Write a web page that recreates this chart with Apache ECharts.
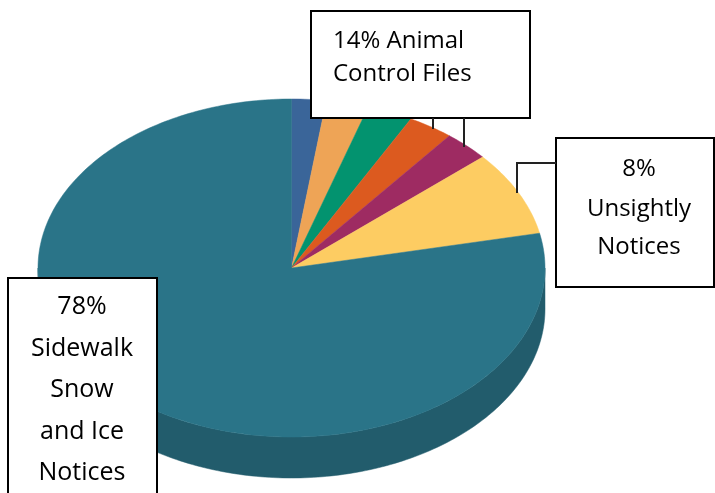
<!DOCTYPE html>
<html>
<head>
<meta charset="utf-8">
<script src="https://cdn.jsdelivr.net/npm/echarts@6/dist/echarts.min.js"></script>
<style>
html,body{margin:0;padding:0;background:#fff;}
#chart{width:715px;height:493px;}
</style>
</head>
<body>
<div id="chart"></div>
<script>
// ---- data ----
const categories = ['Animal Control Files A','Animal Control Files B','Animal Control Files C','Animal Control Files D','Animal Control Files E','Unsightly Notices','Sidewalk Snow and Ice Notices'];
const values = [2.2, 2.7, 2.9, 2.9, 2.9, 8.1, 78.3];
const colors = ['#3A6599','#EEA456','#03936F','#DC5A1F','#9E2B62','#FDCC62','#2A7488'];
const sideColors = ['#2C4D75','#B87E42','#026F55','#A94517','#7A214B','#C29D4B','#225C6C'];
const labelTexts = [
  ['14% Animal','Control Files'],
  ['8%','Unsightly','Notices'],
  ['78%','Sidewalk','Snow','and Ice','Notices']
];

// ---- geometry ----
const DEPTH = 0.2426; // side thickness in y-units of the top-face radius
const total = values.reduce((a,b)=>a+b,0);
let cum = 0;
const sliceData = values.map((v,i)=>{
  const s = cum/total*360; cum += v; const e = cum/total*360;
  return {name:categories[i], value:[s,e,i]};
});
const rad = d => d*Math.PI/180;

function topItem(params, api){
  const s = api.value(0), e = api.value(1), idx = api.value(2);
  const pts = [api.coord([0,0])];
  const n = Math.max(4, Math.ceil((e-s)/1));
  for(let k=0;k<=n;k++){
    const t = rad(s+(e-s)*k/n);
    pts.push(api.coord([Math.sin(t), Math.cos(t)]));
  }
  return {type:'polygon', shape:{points:pts}, style:{fill:colors[idx], stroke:colors[idx], lineWidth:0.5}};
}
function sideItem(params, api){
  const s = Math.max(api.value(0),90), e = Math.min(api.value(1),270), idx = api.value(2);
  if(e<=s) return null;
  const pts = [];
  const n = Math.max(4, Math.ceil(e-s));
  for(let k=0;k<=n;k++){
    const t = rad(s+(e-s)*k/n);
    pts.push(api.coord([Math.sin(t), Math.cos(t)]));
  }
  for(let k=n;k>=0;k--){
    const t = rad(s+(e-s)*k/n);
    pts.push(api.coord([Math.sin(t), Math.cos(t)-DEPTH]));
  }
  return {type:'polygon', shape:{points:pts}, style:{fill:sideColors[idx], stroke:sideColors[idx], lineWidth:0.5}};
}

const FONT = '"Open Sans", "Noto Sans", sans-serif';
function textEl(str, x, y, size, align){
  return {type:'text', z:20, style:{text:str, x:x, y:y, fill:'#000', font: size+'px '+FONT, textAlign:align, textVerticalAlign:'middle'}};
}
const graphics = [];
// box 1
graphics.push({type:'rect', z:10, shape:{x:311,y:11,width:219,height:107}, style:{fill:'#fff', stroke:'#000', lineWidth:2}});
[41,74].forEach((y,i)=>graphics.push(textEl(labelTexts[0][i], 333, y, 24, 'left')));
graphics.push({type:'polyline', z:10, shape:{points:[[433,118],[433,129]]}, style:{stroke:'#222', lineWidth:2}});
graphics.push({type:'polyline', z:10, shape:{points:[[464,118],[464,147]]}, style:{stroke:'#222', lineWidth:2}});
// box 2
graphics.push({type:'rect', z:10, shape:{x:556,y:138,width:158,height:149}, style:{fill:'#fff', stroke:'#000', lineWidth:2}});
[169,209,247].forEach((y,i)=>graphics.push(textEl(labelTexts[1][i], 639, y, 24, 'center')));
graphics.push({type:'polyline', z:10, shape:{points:[[556,163],[517,163],[517,193]]}, style:{stroke:'#222', lineWidth:2}});
// box 3
graphics.push({type:'rect', z:10, shape:{x:8,y:278,width:149,height:260}, style:{fill:'#fff', stroke:'#000', lineWidth:2}});
[307,349,390,432,473].forEach((y,i)=>graphics.push(textEl(labelTexts[2][i], 82, y, 25, 'center')));

const chart = echarts.init(document.getElementById('chart'), null, {renderer:'canvas'});
chart.setOption({
  animation:false,
  backgroundColor:'#fff',
  grid:{left:38, right:170, top:99, bottom:15},
  xAxis:{type:'value', min:-1, max:1, show:false},
  yAxis:{type:'value', min:-(1+DEPTH), max:1, show:false},
  series:[
    {type:'custom', name:'side', renderItem:sideItem, data:sliceData, silent:true, z:1, encode:{x:-1,y:-1}},
    {type:'custom', name:'top', renderItem:topItem, data:sliceData, silent:true, z:2, encode:{x:-1,y:-1}}
  ],
  graphic:graphics
});
</script>
</body>
</html>
